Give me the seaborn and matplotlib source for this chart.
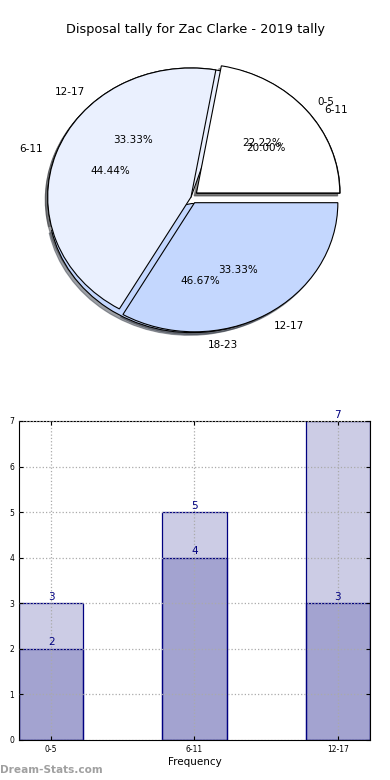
import numpy as np
import matplotlib
matplotlib.use("Agg")
import matplotlib.pyplot as plt
import seaborn as sns

# data
groups = ['0-5', '6-11', '12-17']
tally_a = [2, 4, 3]
labels_a = ['0-5', '6-11', '12-17']
tally_b = [3, 5, 7]
labels_b = ['6-11', '12-17', '18-23']

title = 'Disposal tally for Zac Clarke - 2019 tally'
pie_colors = ['#ffffff', '#eaf0fe', '#c4d7fe']

fig = plt.figure(figsize=(3.9, 7.8), dpi=100)

# ---- pie (two pies drawn on top of each other)
ax1 = fig.add_axes([0.0, 0.551, 1.0, 0.385])
wp = {'edgecolor': 'black', 'linewidth': 0.8}
shadow = {'ox': -0.012, 'oy': -0.015}
ax1.pie(tally_b, labels=labels_b, colors=pie_colors, autopct='%1.2f%%',
        explode=(0.05, 0, 0.05), shadow=shadow, startangle=0,
        wedgeprops=wp, textprops={'fontsize': 7.5})
ax1.pie(tally_a, labels=labels_a, colors=pie_colors, autopct='%1.2f%%',
        explode=(0.05, 0, 0.05), shadow=shadow, startangle=0,
        wedgeprops=wp, textprops={'fontsize': 7.5})
ax1.set_aspect('auto')
ax1.set_xlim(-1.333, 1.389)
ax1.set_ylim(-1.186, 1.140)
ax1.axis('off')

fig.text(0.5, 1 - 30 / 780, title, ha='center', va='center', fontsize=9.3)

# ---- bars
ax2 = fig.add_axes([0.0487, 0.0513, 0.9, 0.409])
w = 0.45
sns.barplot(x=groups, y=tally_b, ax=ax2, color='navy', saturation=1, width=w)
sns.barplot(x=groups, y=tally_a, ax=ax2, color='navy', saturation=1, width=w)
for p in ax2.patches:
    p.set_alpha(None)
    p.set_facecolor((0, 0, 0.5, 0.2))
    p.set_edgecolor('navy')
    p.set_linewidth(0.9)
for bars in ax2.containers:
    ax2.bar_label(bars, color='navy', fontsize=7.5, padding=1)

ax2.set_xlim(-w / 2, 2 + w / 2)
ax2.set_ylim(0, 7)
ax2.set_yticks(range(8))
ax2.grid(True, linestyle=':', color='#aaaaaa', linewidth=0.9)
ax2.set_axisbelow(False)
ax2.tick_params(labelsize=5.5, direction='in', top=True, right=True, length=3)
ax2.set_xlabel('Frequency', fontsize=7.5, labelpad=2)
for s in ax2.spines.values():
    s.set_linewidth(0.8)

fig.text(0.0, 1 - 770 / 780, 'Dream-Stats.com', color='#a0a0a0', fontsize=7.6,
         fontweight='bold', ha='left', va='center')

plt.savefig('out.png', dpi=100)
